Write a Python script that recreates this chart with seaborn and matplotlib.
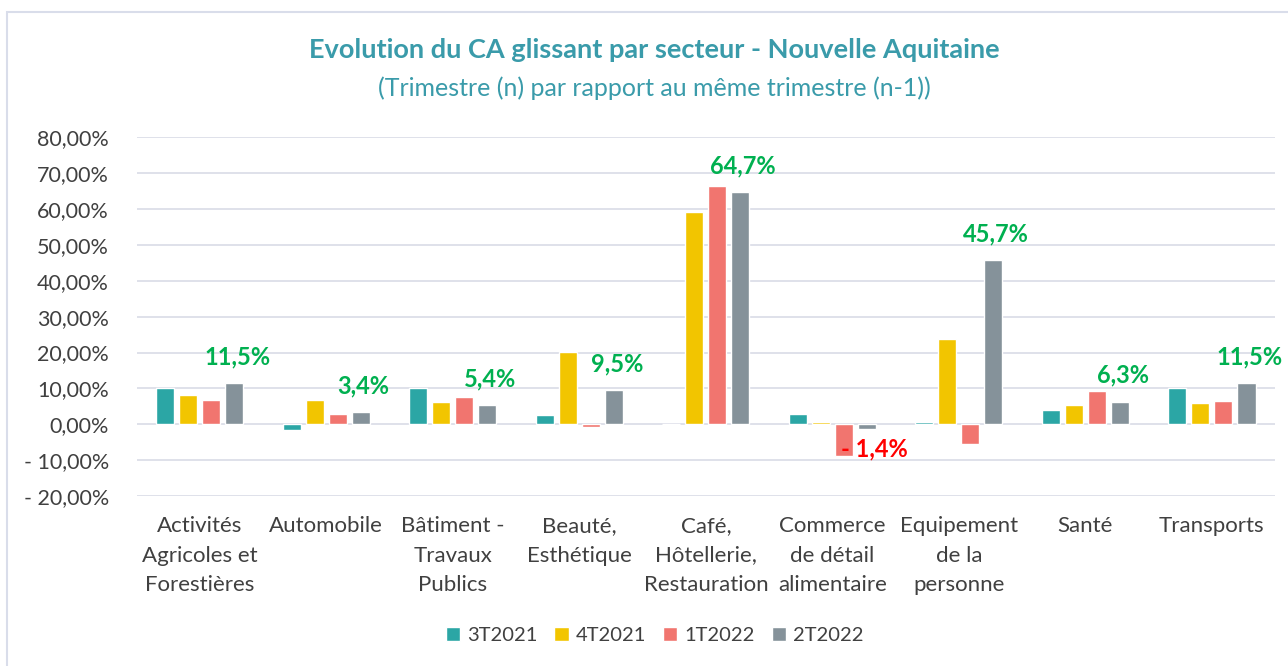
import matplotlib
matplotlib.use("Agg")
import matplotlib.pyplot as plt
import pandas as pd
import seaborn as sns
from matplotlib.patches import Rectangle

# Sector labels (x axis) and quarterly series, in percent.
sectors = [
    "Activités\nAgricoles et\nForestières",
    "Automobile",
    "Bâtiment -\nTravaux\nPublics",
    "Beauté,\nEsthétique",
    "Café,\nHôtellerie,\nRestauration",
    "Commerce\nde détail\nalimentaire",
    "Equipement\nde la\npersonne",
    "Santé",
    "Transports",
]
quarters = ["3T2021", "4T2021", "1T2022", "2T2022"]
t3_2021 = [10.2, -1.5, 10.1, 2.6, 0.0, 3.0, 0.6, 4.0, 10.1]
t4_2021 = [8.2, 6.9, 6.1, 20.1, 59.1, 0.8, 23.8, 5.3, 5.9]
t1_2022 = [6.7, 2.9, 7.7, -0.6, 66.3, -8.8, -5.4, 9.3, 6.6]
t2_2022 = [11.5, 3.4, 5.4, 9.5, 64.7, -1.4, 45.7, 6.3, 11.5]
labels_2t = ["11,5%", "3,4%", "5,4%", "9,5%", "64,7%", "- 1,4%", "45,7%", "6,3%", "11,5%"]

colors = ["#2BA6A5", "#F2C500", "#F1756F", "#85929A"]
teal = "#3A9BAA"

df = pd.DataFrame({
    "secteur": sectors * 4,
    "trimestre": [q for q in quarters for _ in sectors],
    "valeur": t3_2021 + t4_2021 + t1_2022 + t2_2022,
})

sns.set_style("white")
plt.rcParams["font.family"] = ["Lato", "DejaVu Sans"]

fig = plt.figure(figsize=(12.88, 6.66), dpi=100)
ax = fig.add_axes([0.106, 0.255, 0.884, 0.539])

sns.barplot(data=df, x="secteur", y="valeur", hue="trimestre",
            hue_order=quarters, palette=colors, saturation=1,
            width=0.73, gap=0.22, ax=ax, legend=True)

ax.set_ylim(-20, 80)
ax.set_xlim(-0.5, len(sectors) - 0.5)
ticks = list(range(-20, 81, 10))
ax.set_yticks(ticks)

def fmt(v):
    s = f"{abs(v):.2f}".replace(".", ",") + "%"
    return ("- " + s) if v < 0 else s

ax.set_yticklabels([fmt(t) for t in ticks], fontsize=15.5, color="#404040")
ax.tick_params(axis="x", labelsize=16, colors="#404040", length=0, pad=14)
ax.tick_params(axis="y", length=0, pad=20)
for lbl in ax.get_xticklabels():
    lbl.set_linespacing(1.62)
    lbl.set_verticalalignment("top")
ax.set_xlabel("")
ax.set_ylabel("")
ax.grid(axis="y", color="#D9DCE6", linewidth=1.2)
ax.set_axisbelow(True)
for sp in ax.spines.values():
    sp.set_visible(False)

# Annotate the 2T2022 bars
bars_2t = ax.containers[3]
for rect, val, txt in zip(bars_2t, t2_2022, labels_2t):
    cx = rect.get_x() + rect.get_width() / 2
    if val >= 0:
        ax.annotate(txt, (cx, val), xytext=(2, 19), textcoords="offset points",
                    ha="center", va="center", fontsize=17, fontweight="bold",
                    color="#00B050")
    else:
        ax.annotate(txt, (cx, val), xytext=(5, -14), textcoords="offset points",
                    ha="center", va="center", fontsize=17, fontweight="bold",
                    color="#FF0000")

leg = ax.legend(loc="center", bbox_to_anchor=(0.455, -0.387), ncol=4,
                frameon=False, fontsize=14.5, handlelength=0.7, handleheight=0.7,
                handletextpad=0.35, columnspacing=0.85)
for t in leg.get_texts():
    t.set_color("#404040")

fig.text(0.508, 0.925, "Evolution du CA glissant par secteur - Nouvelle Aquitaine",
         ha="center", va="center", fontsize=19.5, fontweight="bold", color=teal)
fig.text(0.508, 0.868, "(Trimestre (n) par rapport au même trimestre (n-1))",
         ha="center", va="center", fontsize=18, color=teal)

fig.patches.append(Rectangle((7 / 1288, -0.01), 1.1, 1 - 12 / 666 + 0.01,
                             transform=fig.transFigure, fill=False,
                             edgecolor="#D9DDEA", linewidth=1.5))

fig.savefig("out.png", dpi=100)
